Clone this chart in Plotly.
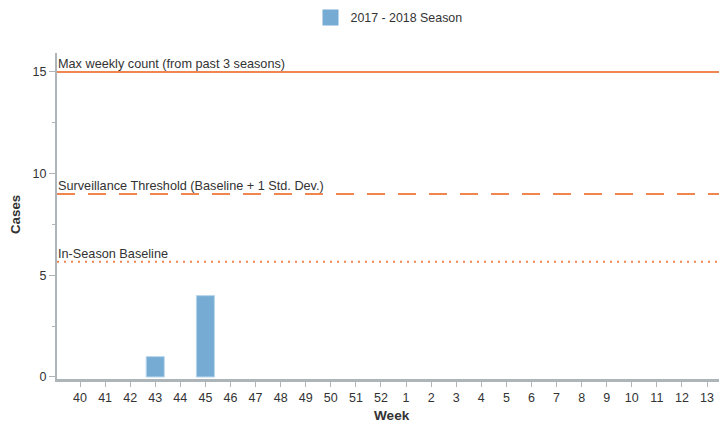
import plotly.graph_objects as go

weeks = ["40", "41", "42", "43", "44", "45", "46", "47", "48", "49", "50", "51", "52",
         "1", "2", "3", "4", "5", "6", "7", "8", "9", "10", "11", "12", "13"]
cases = [0, 0, 0, 1, 0, 4, 0, 0, 0, 0, 0, 0, 0,
         0, 0, 0, 0, 0, 0, 0, 0, 0, 0, 0, 0, 0]
series_name = "2017 - 2018 Season"
ref_labels = ["Max weekly count (from past 3 seasons)",
              "Surveillance Threshold (Baseline + 1 Std. Dev.)",
              "In-Season Baseline"]
ref_values = [15, 9, 5.66]
ref_dashes = ["solid", "18px,13px", "2px,5px"]

ORANGE = "#f08550"
BLUE = "#76acd3"
AXIS = "#aeb5b8"
TEXT = "#333333"

ML, MT, MB, MR = 49, 45, 55, 0
W, H = 727, 426
PW = W - ML - MR
PH = H - MT - MB

fig = go.Figure()
fig.add_trace(go.Bar(
    x=list(range(len(weeks))), y=cases, name=series_name,
    marker=dict(color=BLUE, line=dict(color="#b9d6ec",
                                      width=[1 if c > 0 else 0 for c in cases])),
    width=0.72, showlegend=False,
))
# legend entry
fig.add_trace(go.Scatter(
    x=[None], y=[None], mode="markers", name=series_name,
    marker=dict(symbol="square", size=16, color=BLUE), showlegend=True,
))

for lab, val, dash in zip(ref_labels, ref_values, ref_dashes):
    fig.add_shape(type="line", xref="paper", x0=0, x1=1, yref="y", y0=val, y1=val,
                  line=dict(color=ORANGE, width=2, dash=dash), layer="above")
    fig.add_annotation(xref="paper", x=0.0, yref="y", y=val, text=lab,
                       showarrow=False, xanchor="left", yanchor="bottom",
                       yshift=-1, xshift=-1, font=dict(size=12.7, color=TEXT))

fig.add_annotation(xref="paper", yref="paper", x=(7 - ML) / PW, y=(H - MB - 207) / PH,
                   text="<b>Cases</b>", textangle=-90, showarrow=False,
                   xanchor="center", yanchor="middle", font=dict(size=13.3, color=TEXT))
fig.add_annotation(xref="paper", yref="paper", x=(384 - ML) / PW, y=0, text="<b>Week</b>",
                   showarrow=False, xanchor="center", yanchor="middle",
                   yshift=-36, font=dict(size=13.6, color=TEXT))

fig.update_layout(
    width=W, height=H,
    margin=dict(l=ML, r=MR, t=MT, b=MB, autoexpand=False),
    paper_bgcolor="white", plot_bgcolor="white",
    font=dict(family="Liberation Sans, Arial, sans-serif", size=12, color=TEXT),
    legend=dict(orientation="h", xref="paper", x=(381 - ML) / PW, xanchor="center",
                yref="paper", y=1 + 35 / PH, yanchor="middle",
                font=dict(size=12.4, color=TEXT), itemsizing="trace"),
    showlegend=True,
)

fig.update_xaxes(
    tickmode="array", tickvals=list(range(len(weeks))), ticktext=weeks,
    range=[-0.917, -0.917 + PW / 25.08], automargin=False,
    showgrid=False, zeroline=False,
    showline=True, linecolor=AXIS, linewidth=3,
    ticks="outside", ticklen=5, tickcolor=AXIS, tickwidth=1,
    tickfont=dict(size=12.5, color=TEXT),
)
fig.update_yaxes(
    range=[-0.1, 15.93], automargin=False,
    tickvals=[0, 5, 10, 15],
    showgrid=False, zeroline=False,
    showline=True, linecolor=AXIS, linewidth=2,
    ticks="outside", ticklen=6, tickcolor=AXIS, tickwidth=1,
    minor=dict(tickvals=[2.5, 7.5, 12.5], ticks="outside", ticklen=3, tickcolor=AXIS),
    tickfont=dict(size=12.5, color=TEXT),
)

fig.write_html("out.html")
